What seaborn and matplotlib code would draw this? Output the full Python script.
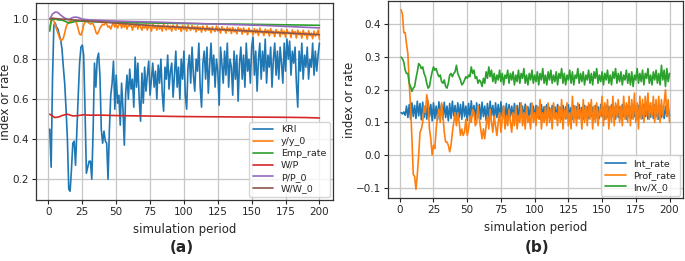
import numpy as np
import pandas as pd
import matplotlib
matplotlib.use("Agg")
import matplotlib.pyplot as plt
import seaborn as sns

# ---------------- panel (a) ----------------
periods = list(range(1, 201))

kri = [0.45, 0.26, 0.70, 0.97, 0.98, 0.96, 0.95, 0.92, 0.90, 0.85,
       0.76, 0.68, 0.55, 0.40, 0.15, 0.14, 0.25, 0.38, 0.39, 0.27,
       0.45, 0.62, 0.78, 0.86, 0.87, 0.82, 0.55, 0.23, 0.26, 0.29,
       0.29, 0.20, 0.45, 0.78, 0.66, 0.80, 0.83, 0.72, 0.45, 0.38,
       0.44, 0.39, 0.38, 0.20, 0.45, 0.62, 0.68, 0.79, 0.55, 0.72,
       0.58, 0.62, 0.47, 0.68, 0.55, 0.37, 0.63, 0.72, 0.60, 0.75,
       0.65, 0.70, 0.56, 0.81, 0.66, 0.78, 0.60, 0.49, 0.73, 0.58,
       0.76, 0.64, 0.72, 0.79, 0.62, 0.70, 0.78, 0.66, 0.74, 0.60,
       0.77, 0.68, 0.80, 0.63, 0.54, 0.76, 0.70, 0.82, 0.65, 0.74,
       0.78, 0.61, 0.72, 0.84, 0.66, 0.76, 0.60, 0.80, 0.70, 0.84,
       0.62, 0.55, 0.76, 0.82, 0.68, 0.86, 0.72, 0.64, 0.80, 0.74,
       0.88, 0.66, 0.56, 0.78, 0.84, 0.70, 0.86, 0.63, 0.77, 0.88,
       0.72, 0.82, 0.66, 0.80, 0.74, 0.57, 0.86, 0.78, 0.68, 0.84,
       0.72, 0.88, 0.66, 0.80, 0.76, 0.62, 0.84, 0.70, 0.82, 0.59,
       0.78, 0.86, 0.70, 0.82, 0.66, 0.88, 0.74, 0.80, 0.68, 0.86,
       0.91, 0.72, 0.84, 0.64, 0.80, 0.88, 0.70, 0.84, 0.74, 0.90,
       0.68, 0.82, 0.76, 0.86, 0.66, 0.80, 0.88, 0.72, 0.84, 0.70,
       0.86, 0.78, 0.68, 0.88, 0.74, 0.90, 0.80, 0.89, 0.72, 0.84,
       0.78, 0.86, 0.68, 0.56, 0.84, 0.74, 0.88, 0.70, 0.82, 0.76,
       0.86, 0.70, 0.80, 0.76, 0.88, 0.72, 0.84, 0.74, 0.82, 0.88]

y_ratio = [0.955, 0.995, 1.0, 0.99, 0.97, 0.95, 0.93, 0.91, 0.895, 0.895,
           0.905, 0.93, 0.96, 0.975, 0.985, 0.99, 0.99, 0.985, 0.99, 0.99,
           0.975, 0.95, 0.925, 0.92, 0.94, 0.97, 0.985, 0.99, 0.985, 0.98,
           0.975, 0.98, 0.975, 0.96, 0.935, 0.925, 0.935, 0.955, 0.965, 0.975,
           0.97, 0.98, 0.975, 0.96, 0.965, 0.95, 0.97, 0.98, 0.96, 0.975,
           0.955, 0.97, 0.985, 0.955, 0.975, 0.96, 0.98, 0.95, 0.97, 0.965,
           0.975, 0.945, 0.97, 0.96, 0.98, 0.95, 0.975, 0.96, 0.945, 0.97,
           0.955, 0.975, 0.945, 0.97, 0.96, 0.94, 0.975, 0.955, 0.965, 0.945,
           0.97, 0.95, 0.965, 0.94, 0.975, 0.955, 0.945, 0.97, 0.95, 0.965,
           0.94, 0.97, 0.955, 0.945, 0.972, 0.95, 0.962, 0.938, 0.968, 0.948,
           0.965, 0.94, 0.97, 0.952, 0.944, 0.968, 0.948, 0.962, 0.936, 0.966,
           0.945, 0.96, 0.935, 0.965, 0.95, 0.94, 0.966, 0.944, 0.958, 0.932,
           0.962, 0.946, 0.938, 0.965, 0.94, 0.955, 0.93, 0.962, 0.944, 0.952,
           0.93, 0.96, 0.94, 0.955, 0.928, 0.958, 0.936, 0.95, 0.926, 0.958,
           0.94, 0.952, 0.925, 0.956, 0.934, 0.946, 0.922, 0.955, 0.936, 0.944,
           0.92, 0.952, 0.93, 0.948, 0.918, 0.955, 0.932, 0.94, 0.918, 0.95,
           0.93, 0.945, 0.915, 0.952, 0.928, 0.94, 0.912, 0.948, 0.93, 0.938,
           0.912, 0.95, 0.925, 0.94, 0.91, 0.948, 0.928, 0.935, 0.908, 0.946,
           0.925, 0.938, 0.905, 0.945, 0.922, 0.935, 0.905, 0.944, 0.92, 0.932,
           0.9, 0.942, 0.918, 0.93, 0.902, 0.94, 0.915, 0.925, 0.945, 0.9]

emp_t = [1, 2, 3, 5, 8, 10, 12, 15, 18, 20, 25, 30, 40, 60, 80, 100, 120, 140, 160, 180, 200]
emp_rate = [0.94, 0.99, 1.0, 1.0, 0.995, 0.995, 0.99, 0.98, 0.985, 0.99, 0.99,
            0.988, 0.985, 0.982, 0.98, 0.978, 0.976, 0.975, 0.973, 0.971, 0.969]

wp_t = [1, 3, 5, 8, 10, 14, 18, 22, 26, 30, 40, 50, 60, 80, 100, 120, 140, 160, 180, 190, 200]
w_p = [0.525, 0.515, 0.508, 0.512, 0.518, 0.525, 0.516, 0.518, 0.522, 0.52, 0.52,
       0.518, 0.517, 0.515, 0.513, 0.512, 0.511, 0.51, 0.509, 0.508, 0.506]

pp_t = [1, 3, 5, 7, 9, 12, 15, 18, 20, 22, 25, 30, 40, 50, 60, 80, 100, 120, 140, 160, 180, 200]
p_ratio = [1.0, 1.025, 1.035, 1.033, 1.02, 1.005, 0.998, 1.008, 1.01, 1.008, 1.0,
           0.996, 0.993, 0.99, 0.988, 0.985, 0.98, 0.976, 0.972, 0.968, 0.962, 0.956]

ww_t = [1, 3, 5, 10, 20, 40, 60, 80, 100, 120, 140, 160, 180, 200]
w_ratio = [1.0, 1.005, 1.003, 1.0, 0.995, 0.985, 0.975, 0.966, 0.958, 0.95,
           0.943, 0.936, 0.929, 0.922]

# ---------------- panel (b) ----------------
int_rate = [0.130, 0.126, 0.132, 0.122, 0.150, 0.115, 0.155, 0.110, 0.160, 0.118,
            0.152, 0.112, 0.165, 0.120, 0.158, 0.108, 0.162, 0.115, 0.150, 0.110,
            0.165, 0.118, 0.155, 0.105, 0.160, 0.112, 0.150, 0.108, 0.163, 0.118,
            0.155, 0.110, 0.162, 0.115, 0.150, 0.105, 0.158, 0.112, 0.165, 0.120,
            0.152, 0.108, 0.160, 0.115, 0.155, 0.110, 0.163, 0.118, 0.150, 0.106,
            0.158, 0.112, 0.166, 0.120, 0.152, 0.108, 0.160, 0.115, 0.155, 0.110,
            0.162, 0.118, 0.150, 0.106, 0.158, 0.112, 0.165, 0.120, 0.152, 0.108,
            0.160, 0.115, 0.155, 0.110, 0.163, 0.118, 0.150, 0.106, 0.158, 0.112,
            0.155, 0.118, 0.150, 0.110, 0.158, 0.115, 0.152, 0.108, 0.160, 0.118,
            0.150, 0.112, 0.156, 0.116, 0.148, 0.110, 0.158, 0.118, 0.150, 0.112,
            0.152, 0.115, 0.146, 0.110, 0.155, 0.118, 0.148, 0.112, 0.154, 0.116,
            0.146, 0.110, 0.152, 0.118, 0.148, 0.112, 0.155, 0.115, 0.146, 0.110,
            0.152, 0.116, 0.148, 0.112, 0.154, 0.118, 0.146, 0.110, 0.152, 0.115,
            0.148, 0.112, 0.155, 0.118, 0.146, 0.110, 0.152, 0.116, 0.148, 0.112,
            0.154, 0.118, 0.146, 0.110, 0.152, 0.115, 0.148, 0.112, 0.155, 0.118,
            0.146, 0.110, 0.152, 0.116, 0.148, 0.112, 0.154, 0.118, 0.146, 0.110,
            0.152, 0.115, 0.148, 0.112, 0.155, 0.118, 0.146, 0.110, 0.152, 0.116,
            0.148, 0.112, 0.154, 0.118, 0.146, 0.110, 0.152, 0.115, 0.148, 0.112,
            0.155, 0.118, 0.146, 0.110, 0.152, 0.116, 0.148, 0.112, 0.154, 0.118,
            0.146, 0.110, 0.152, 0.115, 0.148, 0.112, 0.150, 0.118, 0.146, 0.120]

prof_rate = [0.445, 0.43, 0.375, 0.375, 0.34, 0.31, 0.22, 0.15, 0.05, -0.06,
             -0.065, -0.105, -0.06, 0.0, 0.07, 0.08, 0.10, 0.15, 0.13, 0.185,
             0.16, 0.08, 0.05, 0.0, 0.03, 0.02, 0.08, 0.12, 0.14, 0.10,
             0.16, 0.12, 0.07, 0.04, 0.04, 0.03, 0.01, 0.03, 0.07, 0.10,
             0.13, 0.09, 0.13, 0.10, 0.06, 0.08, 0.06, 0.07, 0.11, 0.06,
             0.08, 0.12, 0.10, 0.14, 0.13, 0.09, 0.10, 0.15, 0.11, 0.08,
             0.05, 0.08, 0.05, 0.09, 0.12, 0.08, 0.14, 0.10, 0.07, 0.12,
             0.09, 0.06, 0.10, 0.13, 0.07, 0.11, 0.15, 0.08, 0.12, 0.09,
             0.14, 0.10, 0.07, 0.13, 0.09, 0.15, 0.08, 0.12, 0.10, 0.16,
             0.09, 0.13, 0.08, 0.15, 0.10, 0.12, 0.08, 0.16, 0.10, 0.13,
             0.09, 0.15, 0.11, 0.17, 0.08, 0.13, 0.10, 0.15, 0.09, 0.16,
             0.10, 0.14, 0.08, 0.16, 0.11, 0.13, 0.09, 0.15, 0.10, 0.17,
             0.08, 0.14, 0.11, 0.16, 0.09, 0.13, 0.08, 0.18, 0.10, 0.15,
             0.09, 0.16, 0.11, 0.14, 0.08, 0.17, 0.10, 0.15, 0.09, 0.16,
             0.11, 0.17, 0.08, 0.15, 0.10, 0.16, 0.09, 0.14, 0.12, 0.18,
             0.09, 0.16, 0.11, 0.17, 0.08, 0.15, 0.10, 0.18, 0.09, 0.16,
             0.12, 0.17, 0.10, 0.15, 0.09, 0.18, 0.11, 0.16, 0.10, 0.18,
             0.09, 0.17, 0.11, 0.19, 0.10, 0.16, 0.08, 0.18, 0.11, 0.17,
             0.10, 0.18, 0.12, 0.19, 0.11, 0.16, 0.12, 0.18, 0.10, 0.17,
             0.11, 0.18, 0.10, 0.17, 0.12, 0.16, 0.20, 0.12, 0.17, 0.10]

inv_ratio = [0.30, 0.295, 0.285, 0.26, 0.25, 0.25, 0.22, 0.21, 0.195, 0.205,
             0.21, 0.235, 0.255, 0.28, 0.275, 0.265, 0.27, 0.25, 0.24, 0.22,
             0.205, 0.21, 0.235, 0.255, 0.27, 0.26, 0.265, 0.25, 0.24, 0.245,
             0.225, 0.22, 0.23, 0.21, 0.205, 0.22, 0.245, 0.25, 0.24, 0.25,
             0.255, 0.275, 0.25, 0.24, 0.23, 0.215, 0.22, 0.23, 0.24, 0.235,
             0.245, 0.24, 0.27, 0.25, 0.26, 0.235, 0.24, 0.22, 0.23, 0.225,
             0.21, 0.235, 0.22, 0.255, 0.235, 0.27, 0.24, 0.26, 0.225, 0.25,
             0.22, 0.245, 0.23, 0.26, 0.225, 0.25, 0.215, 0.245, 0.235, 0.26,
             0.22, 0.25, 0.23, 0.255, 0.215, 0.245, 0.225, 0.26, 0.22, 0.25,
             0.235, 0.265, 0.22, 0.245, 0.215, 0.25, 0.23, 0.26, 0.22, 0.245,
             0.225, 0.255, 0.215, 0.25, 0.23, 0.265, 0.22, 0.245, 0.215, 0.255,
             0.23, 0.26, 0.22, 0.245, 0.225, 0.255, 0.215, 0.25, 0.235, 0.265,
             0.22, 0.25, 0.215, 0.245, 0.23, 0.26, 0.22, 0.255, 0.215, 0.245,
             0.235, 0.265, 0.22, 0.25, 0.225, 0.255, 0.215, 0.245, 0.23, 0.26,
             0.22, 0.25, 0.215, 0.255, 0.235, 0.265, 0.22, 0.245, 0.225, 0.255,
             0.215, 0.25, 0.23, 0.26, 0.22, 0.245, 0.215, 0.255, 0.235, 0.265,
             0.22, 0.25, 0.225, 0.255, 0.215, 0.245, 0.23, 0.26, 0.22, 0.25,
             0.215, 0.255, 0.21, 0.245, 0.23, 0.265, 0.22, 0.25, 0.225, 0.26,
             0.215, 0.25, 0.235, 0.265, 0.22, 0.245, 0.215, 0.255, 0.23, 0.26,
             0.22, 0.25, 0.215, 0.275, 0.23, 0.26, 0.21, 0.265, 0.225, 0.25]

names_a = ["KRI", "y/y_0", "Emp_rate", "W/P", "P/P_0", "W/W_0"]
names_b = ["Int_rate", "Prof_rate", "Inv/X_0"]


def long_frame(pairs):
    parts = []
    for name, (t, v) in pairs.items():
        parts.append(pd.DataFrame({"period": t, "value": v, "series": name}))
    return pd.concat(parts, ignore_index=True)


df_a = long_frame({
    "KRI": (periods, kri),
    "y/y_0": (periods, y_ratio),
    "Emp_rate": (emp_t, emp_rate),
    "W/P": (wp_t, w_p),
    "P/P_0": (pp_t, p_ratio),
    "W/W_0": (ww_t, w_ratio),
})
df_b = long_frame({
    "Int_rate": (periods, int_rate),
    "Prof_rate": (periods, prof_rate),
    "Inv/X_0": (periods, inv_ratio),
})

sns.set_style("ticks", {"axes.grid": True, "grid.color": ".78", "axes.edgecolor": ".2"})
tab = sns.color_palette("tab10")

fig = plt.figure(figsize=(6.85, 2.61), dpi=100)
ax1 = fig.add_axes([0.053, 0.233, 0.433, 0.755])
ax2 = fig.add_axes([0.566, 0.240, 0.431, 0.757])

sns.lineplot(data=df_a, x="period", y="value", hue="series", hue_order=names_a,
             palette=tab[:6], linewidth=1.2, ax=ax1, sort=True)
sns.lineplot(data=df_b, x="period", y="value", hue="series", hue_order=names_b,
             palette=tab[:3], linewidth=1.2, ax=ax2, sort=True)

for ax in (ax1, ax2):
    ax.set_xlabel("simulation period", fontsize=8.5)
    ax.set_ylabel("index or rate", fontsize=8.5)
    ax.set_xticks([0, 25, 50, 75, 100, 125, 150, 175, 200])
    ax.tick_params(labelsize=7.5, length=3, width=0.8, pad=2)
    ax.grid(True, linewidth=0.9)
    for s in ax.spines.values():
        s.set_linewidth(0.9)
    ax.legend(loc="lower right", fontsize=6.8, handlelength=2.2, borderpad=0.4,
              labelspacing=0.3, borderaxespad=0.3, frameon=True, fancybox=True)

ax1.set_yticks([0.2, 0.4, 0.6, 0.8, 1.0])
ax2.set_yticks([-0.1, 0.0, 0.1, 0.2, 0.3, 0.4])
ax1.yaxis.set_label_coords(-0.083, 0.5)
ax2.yaxis.set_label_coords(-0.108, 0.5)

fig.text(0.265, 0.05, "(a)", ha="center", va="center", fontsize=11, fontweight="bold")
fig.text(0.784, 0.05, "(b)", ha="center", va="center", fontsize=11, fontweight="bold")

fig.savefig("out.png", dpi=100)
